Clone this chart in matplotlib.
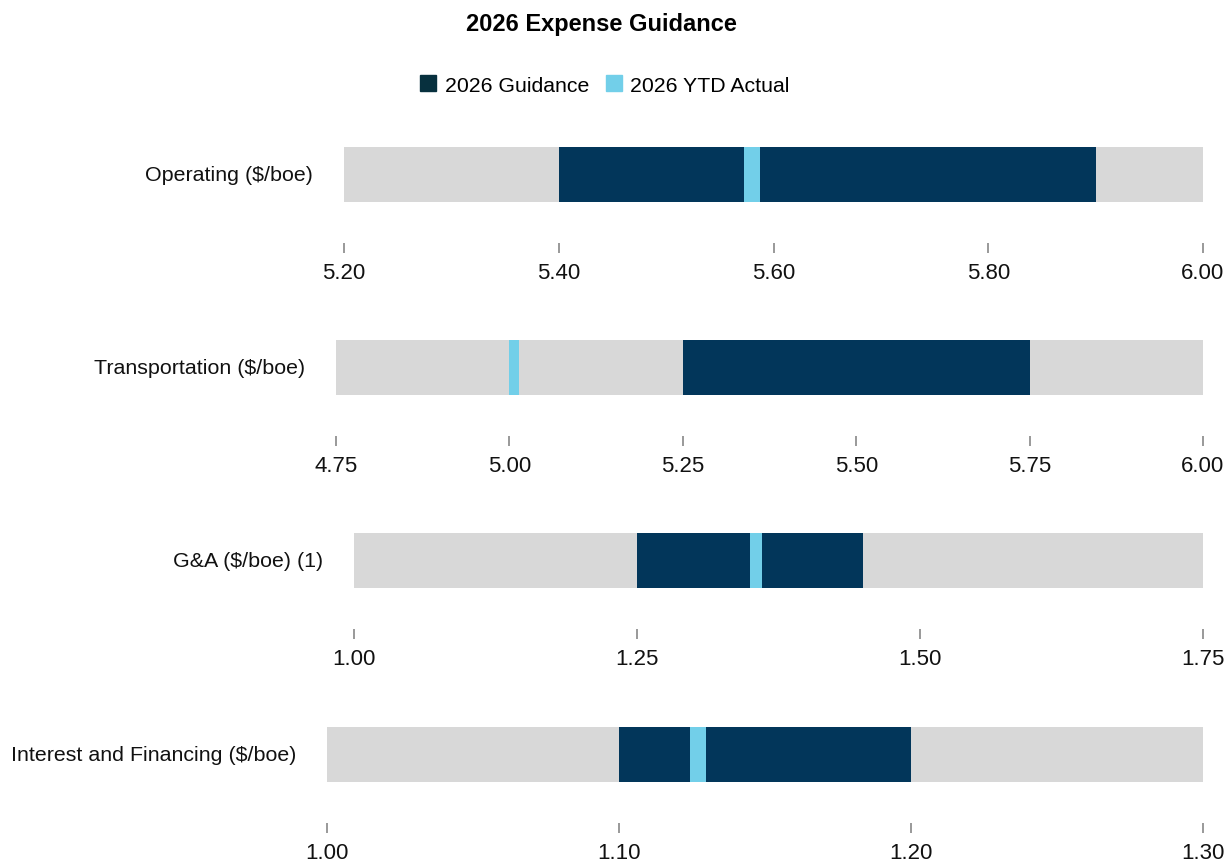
import matplotlib.pyplot as plt
from matplotlib.patches import Patch

plt.rcParams['font.family'] = ['Liberation Sans', 'DejaVu Sans']

# Data
categories = ['Operating ($/boe)', 'Transportation ($/boe)', 'G&A ($/boe) (1)',
              'Interest and Financing ($/boe)']
axis_min = [5.20, 4.75, 1.00, 1.00]
axis_max = [6.00, 6.00, 1.75, 1.30]
tick_step = [0.20, 0.25, 0.25, 0.10]
guide_low = [5.40, 5.25, 1.25, 1.10]
guide_high = [5.90, 5.75, 1.45, 1.20]
ytd_actual = [5.58, 5.007, 1.355, 1.127]

gray = '#d8d8d8'
navy = '#02365a'
light_blue = '#72cfe9'
legend_navy = '#07303e'

W, H = 1226, 862
fig = plt.figure(figsize=(W / 100, H / 100), dpi=100)

# per-row layout in pixels: bar left edge, bar top, marker width
row_left = [344, 336, 354, 327]
row_top = [148, 341, 534, 728]
marker_px = [16, 10, 12, 16]
right_px = 1203
axes_h_px = 96

for i, cat in enumerate(categories):
    span_px = right_px - row_left[i]
    left = row_left[i] / W
    bottom = 1 - (row_top[i] + axes_h_px) / H
    ax = fig.add_axes([left, bottom, span_px / W, axes_h_px / H])
    lo, hi = axis_min[i], axis_max[i]
    ax.set_xlim(lo, hi)
    ax.set_ylim(0, 1)
    bar_bottom = 41 / 96
    bh = 1 - bar_bottom
    ax.barh(bar_bottom, hi - lo, left=lo, height=bh, align='edge', color=gray)
    ax.barh(bar_bottom, guide_high[i] - guide_low[i], left=guide_low[i], height=bh,
            align='edge', color=navy)
    mw = marker_px[i] / span_px * (hi - lo)
    ax.barh(bar_bottom, mw, left=ytd_actual[i] - mw / 2, height=bh, align='edge',
            color=light_blue)
    n = int(round((hi - lo) / tick_step[i]))
    ticks = [lo + k * tick_step[i] for k in range(n + 1)]
    ax.set_xticks(ticks)
    ax.set_xticklabels([f'{t:.2f}' for t in ticks])
    ax.tick_params(axis='x', direction='out', length=7.5, width=1.2, color='#888888',
                   labelsize=16, pad=6, labelcolor='#111111')
    ax.set_yticks([])
    for s in ax.spines.values():
        s.set_visible(False)
    ax.text(-31 / span_px, bar_bottom + bh / 2, cat,
            transform=ax.transAxes, ha='right', va='center', fontsize=15.4,
            color='#111111')

fig.text(601 / W, 1 - 24 / H, '2026 Expense Guidance', ha='center', va='center',
         fontsize=17, fontweight='bold')

handles = [Patch(color=legend_navy, label='2026 Guidance'),
           Patch(color=light_blue, label='2026 YTD Actual')]
fig.legend(handles=handles, loc='center', bbox_to_anchor=(605 / W, 1 - 86 / H), ncol=2,
           frameon=False, fontsize=15.3, handlelength=0.75, handleheight=0.75,
           handletextpad=0.4, columnspacing=0.8)

fig.savefig('out.png', dpi=100)
